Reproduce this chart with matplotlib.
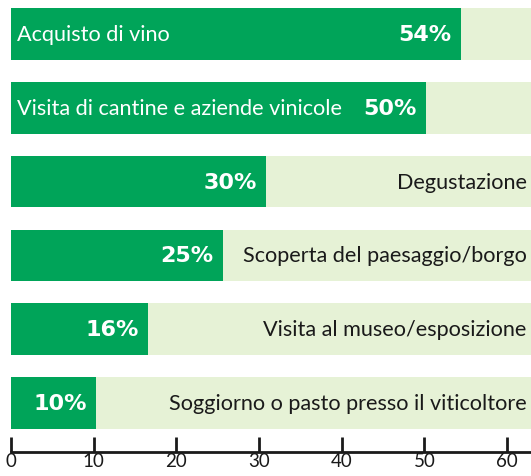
import matplotlib
matplotlib.use('Agg')
import matplotlib.pyplot as plt

plt.rcParams['font.family'] = ['Lato', 'DejaVu Sans']

labels = ['Acquisto di vino', 'Visita di cantine e aziende vinicole', 'Degustazione',
          'Scoperta del paesaggio/borgo', 'Visita al museo/esposizione',
          'Soggiorno o pasto presso il viticoltore']
values = [54.4, 50.2, 30.9, 25.6, 16.6, 10.3]
pct_labels = ['54%', '50%', '30%', '25%', '16%', '10%']
inside = [True, True, False, False, False, False]
ticks = [0, 10, 20, 30, 40, 50, 60]

dark = '#00a459'
light = '#e6f2d6'
xmax = 62.9

fig = plt.figure(figsize=(5.31, 4.77), dpi=100)
ax = fig.add_axes([11 / 531, 24 / 477, 520 / 531, 453 / 477])

y = list(range(len(labels)))
ax.barh(y, [xmax] * len(y), height=0.7, color=light, zorder=1)
ax.barh(y, values, height=0.7, color=dark, zorder=2)

for i, (lab, v, p) in enumerate(zip(labels, values, pct_labels)):
    ax.text(v - 1.1, i, p, ha='right', va='center', color='white',
            fontsize=16, fontweight='bold', family='DejaVu Sans', zorder=3)
    if inside[i]:
        ax.text(0.7, i, lab, ha='left', va='center', color='white',
                fontsize=15.6, zorder=3)
    else:
        ax.text(xmax - 0.5, i, lab, ha='right', va='center', color='#1a1a1a',
                fontsize=15.6, zorder=3)

ax.set_xlim(0, xmax)
ax.set_ylim(5 + 0.664, -0.474)
ax.set_xticks(ticks)
ax.set_yticks([])
for s in ['top', 'right', 'left']:
    ax.spines[s].set_visible(False)
ax.spines['bottom'].set_linewidth(2)
ax.spines['bottom'].set_color('#1a1a1a')
ax.tick_params(axis='x', direction='in', length=11, width=2, color='#1a1a1a',
               labelsize=13.5, labelcolor='#1a1a1a', pad=0)

fig.savefig('out.png', dpi=100)
